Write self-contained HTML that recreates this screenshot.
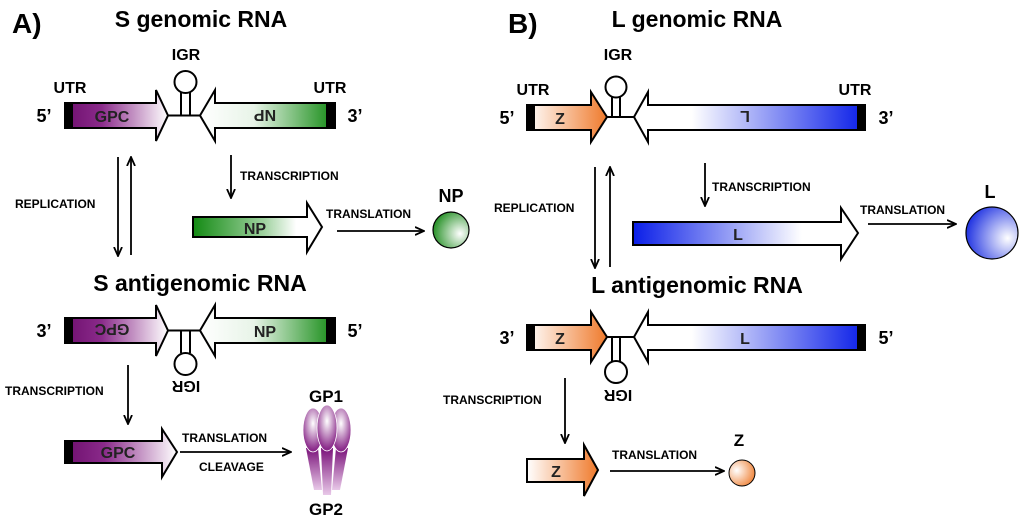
<!DOCTYPE html>
<html><head><meta charset="utf-8"><style>
html,body{margin:0;padding:0;background:#fff;}
svg{display:block;font-family:"Liberation Sans",Arial,sans-serif;font-weight:bold;}
</style></head><body>
<svg width="1024" height="522" viewBox="0 0 1024 522" xmlns="http://www.w3.org/2000/svg">
<defs>
<linearGradient id="gpc" x1="0" x2="1"><stop offset="0" stop-color="#6e0f6e"/><stop offset="0.35" stop-color="#8a2a8a"/><stop offset="1" stop-color="#fff"/></linearGradient>
<linearGradient id="np" x1="0" x2="1"><stop offset="0" stop-color="#fff"/><stop offset="0.4" stop-color="#e8f4e8"/><stop offset="1" stop-color="#138a13"/></linearGradient>
<linearGradient id="npr" x1="0" x2="1"><stop offset="0" stop-color="#138a13"/><stop offset="0.55" stop-color="#9fd29f"/><stop offset="0.8" stop-color="#fff"/></linearGradient>
<linearGradient id="z" x1="0" x2="1"><stop offset="0" stop-color="#fff"/><stop offset="1" stop-color="#ef7a2c"/></linearGradient>
<linearGradient id="lg" x1="0" x2="1"><stop offset="0" stop-color="#fff"/><stop offset="0.25" stop-color="#fff"/><stop offset="1" stop-color="#0a1ee8"/></linearGradient>
<linearGradient id="lm" x1="0" x2="1"><stop offset="0" stop-color="#0a1ee8"/><stop offset="0.75" stop-color="#fff"/></linearGradient>
<radialGradient id="cg" cx="0.75" cy="0.6" r="0.8"><stop offset="0" stop-color="#fff"/><stop offset="1" stop-color="#1a8a1a"/></radialGradient>
<radialGradient id="cb" cx="0.8" cy="0.6" r="0.85"><stop offset="0" stop-color="#fff"/><stop offset="1" stop-color="#1428e0"/></radialGradient>
<radialGradient id="co" cx="0.3" cy="0.4" r="0.8"><stop offset="0" stop-color="#fff"/><stop offset="1" stop-color="#ee7a2a"/></radialGradient>
<radialGradient id="gp" cx="0.5" cy="0.35" r="0.6"><stop offset="0" stop-color="#fff"/><stop offset="1" stop-color="#8a2a8a"/></radialGradient>
<linearGradient id="gs" x1="0" x2="0" y1="0" y2="1"><stop offset="0" stop-color="#7a127a"/><stop offset="1" stop-color="#e8c8e8"/></linearGradient>
<marker id="ah" markerWidth="10" markerHeight="10" refX="8" refY="5" orient="auto" markerUnits="userSpaceOnUse"><path d="M0,1 L9,5 L0,9" fill="none" stroke="#000" stroke-width="1.8"/></marker>
</defs>
<g stroke="#000" stroke-width="2">
<path d="M65,103 H156 V90 L168,115.5 L156,141 V128 H65 Z" fill="url(#gpc)"/>
<path d="M335,103 H215 V90 L200,115.5 L215,141 V128 H335 Z" fill="url(#np)"/>
<line x1="168" y1="115.5" x2="200" y2="115.5"/>
<line x1="181" y1="92" x2="181" y2="115"/><line x1="190" y1="92" x2="190" y2="115"/>
<circle cx="185.5" cy="82" r="11" fill="#fff"/>
<path d="M65,318 H156 V305 L168,330.5 L156,356 V343 H65 Z" fill="url(#gpc)"/>
<path d="M335,318 H215 V305 L200,330.5 L215,356 V343 H335 Z" fill="url(#np)"/>
<line x1="168" y1="330.5" x2="200" y2="330.5"/>
<line x1="181" y1="331" x2="181" y2="353"/><line x1="190" y1="331" x2="190" y2="353"/>
<circle cx="185.5" cy="364" r="11" fill="#fff"/>
<path d="M193,217 H307 V203 L322,227 L307,252 V237 H193 Z" fill="url(#npr)"/>
<path d="M65,441 H162 V429 L177,452 L162,477 V463 H65 Z" fill="url(#gpc)"/>
<path d="M527,105 H591 V92 L607,117 L591,142 V130 H527 Z" fill="url(#z)"/>
<path d="M865,105 H648 V92 L634,117 L648,142 V130 H865 Z" fill="url(#lg)"/>
<line x1="607" y1="117" x2="634" y2="117"/>
<line x1="612" y1="97" x2="612" y2="117"/><line x1="620" y1="97" x2="620" y2="117"/>
<circle cx="616" cy="87" r="10.5" fill="#fff"/>
<path d="M527,325 H591 V312 L607,337 L591,362 V350 H527 Z" fill="url(#z)"/>
<path d="M865,325 H648 V312 L634,337 L648,362 V350 H865 Z" fill="url(#lg)"/>
<line x1="607" y1="337" x2="634" y2="337"/>
<line x1="612" y1="337" x2="612" y2="362"/><line x1="620" y1="337" x2="620" y2="362"/>
<circle cx="616" cy="372" r="11" fill="#fff"/>
<path d="M633,222 H841 V208 L858,233 L841,259 V245 H633 Z" fill="url(#lm)"/>
<path d="M527,459 H584 V445 L598,470 L584,496 V482 H527 Z" fill="url(#z)"/>
</g>
<g fill="#000">
<rect x="64" y="102" width="9" height="27"/><rect x="326" y="102" width="10" height="27"/>
<rect x="64" y="317" width="9" height="27"/><rect x="326" y="317" width="10" height="27"/>
<rect x="64" y="440" width="9" height="24"/>
<rect x="526" y="104" width="9" height="27"/><rect x="857" y="104" width="9" height="27"/>
<rect x="526" y="324" width="9" height="27"/><rect x="857" y="324" width="9" height="27"/>
</g>
<circle cx="451" cy="230" r="18" fill="url(#cg)" stroke="#000" stroke-width="1.2"/>
<circle cx="992" cy="233" r="26" fill="url(#cb)" stroke="#000" stroke-width="1.2"/>
<circle cx="742" cy="473" r="13" fill="url(#co)" stroke="#000" stroke-width="1"/>
<g>
<path d="M306,448 L314,490 L322,490 L318,448 Z" fill="url(#gs)"/>
<path d="M321,448 L323,495 L331,495 L333,448 Z" fill="url(#gs)"/>
<path d="M336,448 L332,490 L340,490 L348,448 Z" fill="url(#gs)"/>
<ellipse cx="313" cy="430" rx="10" ry="22" fill="url(#gp)" stroke="#fff" stroke-width="0.8"/>
<ellipse cx="341" cy="430" rx="10" ry="22" fill="url(#gp)" stroke="#fff" stroke-width="0.8"/>
<ellipse cx="327" cy="428" rx="10" ry="23" fill="url(#gp)" stroke="#fff" stroke-width="0.8"/>
</g>
<g stroke="#000" stroke-width="1.8" marker-end="url(#ah)">
<line x1="118" y1="157" x2="118" y2="255"/>
<line x1="131" y1="255" x2="131" y2="158"/>
<line x1="231" y1="155" x2="231" y2="197"/>
<line x1="337" y1="231" x2="423" y2="231"/>
<line x1="128" y1="365" x2="128" y2="423"/>
<line x1="180" y1="452" x2="290" y2="452"/>
<line x1="595" y1="167" x2="595" y2="267"/>
<line x1="610" y1="267" x2="610" y2="168"/>
<line x1="705" y1="163" x2="705" y2="205"/>
<line x1="868" y1="224" x2="955" y2="224"/>
<line x1="565" y1="378" x2="565" y2="442"/>
<line x1="610" y1="471" x2="723" y2="471"/>
</g>
<g fill="#000">
<text x="12" y="33" font-size="28">A)</text>
<text x="508" y="33" font-size="28">B)</text>
<text x="201" y="27" font-size="23" text-anchor="middle">S genomic RNA</text>
<text x="697" y="27" font-size="23" text-anchor="middle">L genomic RNA</text>
<text x="200" y="291" font-size="23" text-anchor="middle">S antigenomic RNA</text>
<text x="697" y="293" font-size="23" text-anchor="middle">L antigenomic RNA</text>
<g font-size="16" text-anchor="middle">
<text x="186" y="60">IGR</text>
<text x="618" y="60">IGR</text>
<text x="70" y="93">UTR</text><text x="330" y="93">UTR</text>
<text x="533" y="95">UTR</text><text x="855" y="95">UTR</text>
<text x="44" y="122" font-size="18">5’</text><text x="355" y="122" font-size="18">3’</text>
<text x="44" y="337" font-size="18">3’</text><text x="355" y="337" font-size="18">5’</text>
<text x="507" y="124" font-size="18">5’</text><text x="886" y="124" font-size="18">3’</text>
<text x="507" y="344" font-size="18">3’</text><text x="886" y="344" font-size="18">5’</text>
<text x="451" y="202" font-size="18">NP</text>
<text x="990" y="198" font-size="18">L</text>
<text x="739" y="446" font-size="17">Z</text>
<text x="326" y="402" font-size="17">GP1</text>
<text x="326" y="515" font-size="17">GP2</text>
<text transform="translate(186,381) rotate(180)">IGR</text>
<text transform="translate(618,390) rotate(180)">IGR</text>
</g>
<g font-size="12">
<text x="15" y="208">REPLICATION</text>
<text x="240" y="180">TRANSCRIPTION</text>
<text x="326" y="218">TRANSLATION</text>
<text x="5" y="395">TRANSCRIPTION</text>
<text x="182" y="442">TRANSLATION</text>
<text x="199" y="471">CLEAVAGE</text>
<text x="494" y="212">REPLICATION</text>
<text x="712" y="191">TRANSCRIPTION</text>
<text x="860" y="214">TRANSLATION</text>
<text x="443" y="404">TRANSCRIPTION</text>
<text x="612" y="459">TRANSLATION</text>
</g>
<g font-size="16" text-anchor="middle" fill="#222">
<text x="112" y="122">GPC</text>
<text transform="translate(265,110) rotate(180)">NP</text>
<text transform="translate(112,324) rotate(180)">GPC</text>
<text x="265" y="337">NP</text>
<text x="255" y="234">NP</text>
<text x="118" y="458">GPC</text>
<text x="560" y="124">Z</text>
<text transform="translate(745,111) rotate(180)">L</text>
<text x="560" y="344">Z</text>
<text x="745" y="344">L</text>
<text x="738" y="240">L</text>
<text x="556" y="477">Z</text>
</g>
</g>
</svg>
</body></html>
